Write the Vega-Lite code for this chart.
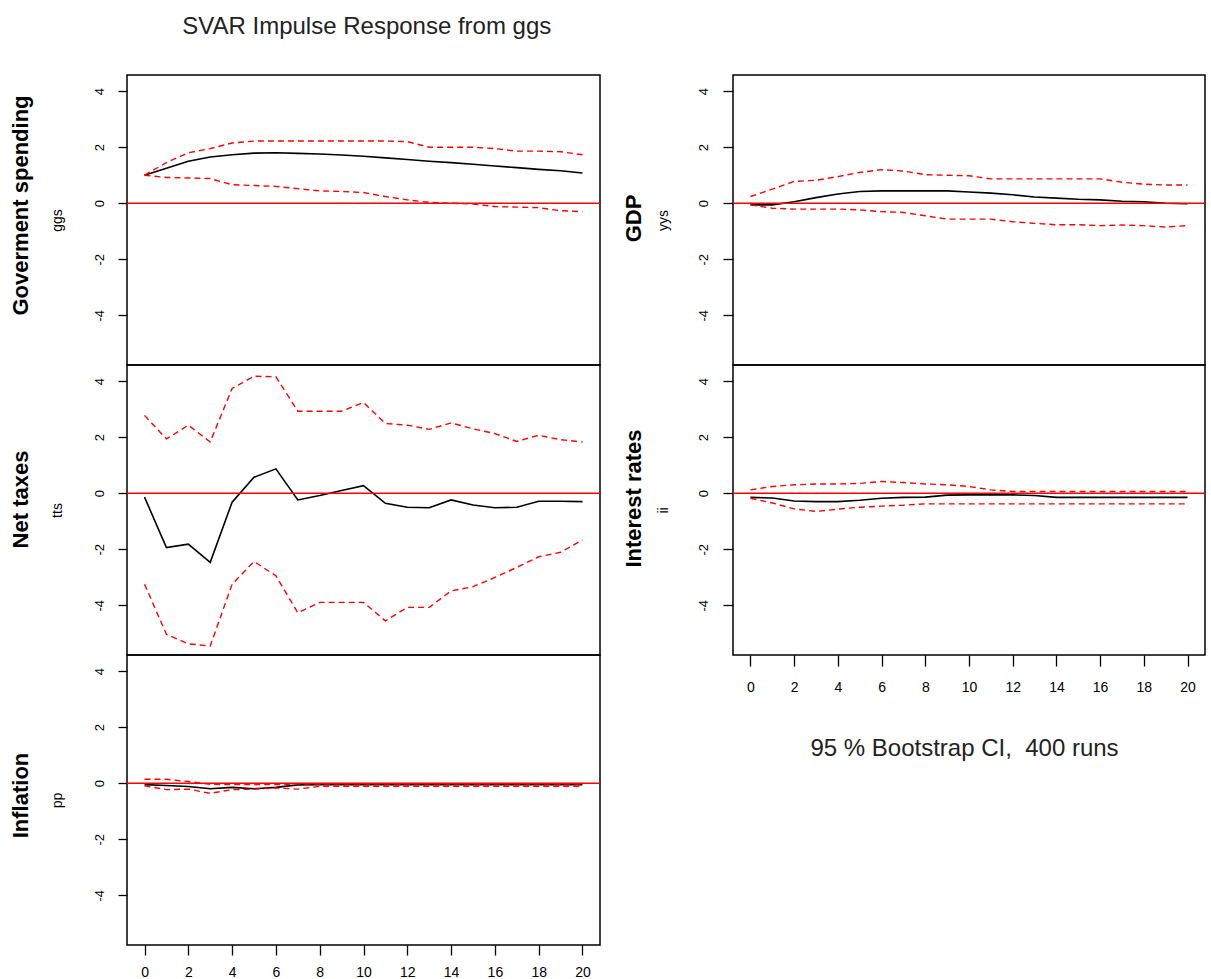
{
"$schema": "https://vega.github.io/schema/vega-lite/v6.json",
"padding": {"left": 8, "top": 15, "right": 0, "bottom": 0},
"background": "white",
"title": {"text": "SVAR Impulse Response from ggs", "fontSize": 24, "fontWeight": "normal", "anchor": "start", "dx": 174, "offset": 35, "color": "#222", "font": "Liberation Sans"},
"data": {"name": "irf"},
"datasets": {"irf": [
{"v":"ggs","h":0,"irf":1.0,"lo":1.0,"hi":1.0},
{"v":"ggs","h":1,"irf":1.25,"lo":0.92,"hi":1.45},
{"v":"ggs","h":2,"irf":1.5,"lo":0.9,"hi":1.8},
{"v":"ggs","h":3,"irf":1.65,"lo":0.88,"hi":1.95},
{"v":"ggs","h":4,"irf":1.73,"lo":0.66,"hi":2.15},
{"v":"ggs","h":5,"irf":1.79,"lo":0.63,"hi":2.22},
{"v":"ggs","h":6,"irf":1.8,"lo":0.6,"hi":2.22},
{"v":"ggs","h":7,"irf":1.78,"lo":0.52,"hi":2.22},
{"v":"ggs","h":8,"irf":1.76,"lo":0.44,"hi":2.22},
{"v":"ggs","h":9,"irf":1.72,"lo":0.42,"hi":2.22},
{"v":"ggs","h":10,"irf":1.68,"lo":0.38,"hi":2.22},
{"v":"ggs","h":11,"irf":1.62,"lo":0.24,"hi":2.22},
{"v":"ggs","h":12,"irf":1.56,"lo":0.12,"hi":2.2},
{"v":"ggs","h":13,"irf":1.5,"lo":0.03,"hi":2.0},
{"v":"ggs","h":14,"irf":1.45,"lo":0.0,"hi":2.0},
{"v":"ggs","h":15,"irf":1.39,"lo":-0.03,"hi":2.0},
{"v":"ggs","h":16,"irf":1.33,"lo":-0.12,"hi":1.95},
{"v":"ggs","h":17,"irf":1.27,"lo":-0.14,"hi":1.86},
{"v":"ggs","h":18,"irf":1.21,"lo":-0.16,"hi":1.86},
{"v":"ggs","h":19,"irf":1.16,"lo":-0.27,"hi":1.84},
{"v":"ggs","h":20,"irf":1.08,"lo":-0.3,"hi":1.73},
{"v":"tts","h":0,"irf":-0.14,"lo":-3.25,"hi":2.78},
{"v":"tts","h":1,"irf":-1.94,"lo":-5.04,"hi":1.94},
{"v":"tts","h":2,"irf":-1.82,"lo":-5.38,"hi":2.43},
{"v":"tts","h":3,"irf":-2.47,"lo":-5.46,"hi":1.83},
{"v":"tts","h":4,"irf":-0.32,"lo":-3.25,"hi":3.74},
{"v":"tts","h":5,"irf":0.57,"lo":-2.44,"hi":4.18},
{"v":"tts","h":6,"irf":0.87,"lo":-2.95,"hi":4.16},
{"v":"tts","h":7,"irf":-0.24,"lo":-4.27,"hi":2.93},
{"v":"tts","h":8,"irf":-0.08,"lo":-3.9,"hi":2.93},
{"v":"tts","h":9,"irf":0.1,"lo":-3.9,"hi":2.93},
{"v":"tts","h":10,"irf":0.27,"lo":-3.9,"hi":3.24},
{"v":"tts","h":11,"irf":-0.36,"lo":-4.56,"hi":2.49},
{"v":"tts","h":12,"irf":-0.5,"lo":-4.08,"hi":2.43},
{"v":"tts","h":13,"irf":-0.52,"lo":-4.08,"hi":2.28},
{"v":"tts","h":14,"irf":-0.24,"lo":-3.49,"hi":2.51},
{"v":"tts","h":15,"irf":-0.42,"lo":-3.34,"hi":2.3},
{"v":"tts","h":16,"irf":-0.52,"lo":-3.01,"hi":2.13},
{"v":"tts","h":17,"irf":-0.5,"lo":-2.65,"hi":1.85},
{"v":"tts","h":18,"irf":-0.29,"lo":-2.27,"hi":2.07},
{"v":"tts","h":19,"irf":-0.29,"lo":-2.11,"hi":1.91},
{"v":"tts","h":20,"irf":-0.3,"lo":-1.67,"hi":1.83},
{"v":"pp","h":0,"irf":-0.05,"lo":-0.09,"hi":0.14},
{"v":"pp","h":1,"irf":-0.08,"lo":-0.23,"hi":0.14},
{"v":"pp","h":2,"irf":-0.12,"lo":-0.21,"hi":0.06},
{"v":"pp","h":3,"irf":-0.2,"lo":-0.36,"hi":-0.04},
{"v":"pp","h":4,"irf":-0.15,"lo":-0.23,"hi":-0.05},
{"v":"pp","h":5,"irf":-0.2,"lo":-0.21,"hi":-0.05},
{"v":"pp","h":6,"irf":-0.15,"lo":-0.17,"hi":-0.05},
{"v":"pp","h":7,"irf":-0.06,"lo":-0.21,"hi":-0.03},
{"v":"pp","h":8,"irf":-0.05,"lo":-0.11,"hi":-0.03},
{"v":"pp","h":9,"irf":-0.05,"lo":-0.11,"hi":-0.03},
{"v":"pp","h":10,"irf":-0.05,"lo":-0.11,"hi":-0.03},
{"v":"pp","h":11,"irf":-0.05,"lo":-0.11,"hi":-0.03},
{"v":"pp","h":12,"irf":-0.05,"lo":-0.11,"hi":-0.03},
{"v":"pp","h":13,"irf":-0.05,"lo":-0.11,"hi":-0.03},
{"v":"pp","h":14,"irf":-0.05,"lo":-0.11,"hi":-0.03},
{"v":"pp","h":15,"irf":-0.05,"lo":-0.11,"hi":-0.03},
{"v":"pp","h":16,"irf":-0.05,"lo":-0.11,"hi":-0.03},
{"v":"pp","h":17,"irf":-0.05,"lo":-0.11,"hi":-0.03},
{"v":"pp","h":18,"irf":-0.05,"lo":-0.11,"hi":-0.03},
{"v":"pp","h":19,"irf":-0.05,"lo":-0.11,"hi":-0.03},
{"v":"pp","h":20,"irf":-0.05,"lo":-0.11,"hi":-0.03},
{"v":"yys","h":0,"irf":-0.06,"lo":-0.06,"hi":0.24},
{"v":"yys","h":1,"irf":-0.06,"lo":-0.18,"hi":0.5},
{"v":"yys","h":2,"irf":0.05,"lo":-0.21,"hi":0.78},
{"v":"yys","h":3,"irf":0.2,"lo":-0.21,"hi":0.82},
{"v":"yys","h":4,"irf":0.33,"lo":-0.21,"hi":0.95},
{"v":"yys","h":5,"irf":0.42,"lo":-0.24,"hi":1.1},
{"v":"yys","h":6,"irf":0.44,"lo":-0.3,"hi":1.2},
{"v":"yys","h":7,"irf":0.44,"lo":-0.33,"hi":1.15},
{"v":"yys","h":8,"irf":0.44,"lo":-0.45,"hi":1.02},
{"v":"yys","h":9,"irf":0.44,"lo":-0.57,"hi":1.0},
{"v":"yys","h":10,"irf":0.4,"lo":-0.57,"hi":0.98},
{"v":"yys","h":11,"irf":0.36,"lo":-0.57,"hi":0.87},
{"v":"yys","h":12,"irf":0.3,"lo":-0.66,"hi":0.87},
{"v":"yys","h":13,"irf":0.22,"lo":-0.72,"hi":0.87},
{"v":"yys","h":14,"irf":0.18,"lo":-0.77,"hi":0.87},
{"v":"yys","h":15,"irf":0.14,"lo":-0.77,"hi":0.87},
{"v":"yys","h":16,"irf":0.12,"lo":-0.8,"hi":0.87},
{"v":"yys","h":17,"irf":0.07,"lo":-0.78,"hi":0.75},
{"v":"yys","h":18,"irf":0.05,"lo":-0.8,"hi":0.68},
{"v":"yys","h":19,"irf":0.0,"lo":-0.85,"hi":0.65},
{"v":"yys","h":20,"irf":-0.02,"lo":-0.8,"hi":0.65},
{"v":"ii","h":0,"irf":-0.15,"lo":-0.18,"hi":0.12},
{"v":"ii","h":1,"irf":-0.17,"lo":-0.35,"hi":0.24},
{"v":"ii","h":2,"irf":-0.28,"lo":-0.56,"hi":0.3},
{"v":"ii","h":3,"irf":-0.3,"lo":-0.65,"hi":0.33},
{"v":"ii","h":4,"irf":-0.3,"lo":-0.57,"hi":0.33},
{"v":"ii","h":5,"irf":-0.25,"lo":-0.5,"hi":0.35},
{"v":"ii","h":6,"irf":-0.18,"lo":-0.46,"hi":0.42},
{"v":"ii","h":7,"irf":-0.15,"lo":-0.43,"hi":0.38},
{"v":"ii","h":8,"irf":-0.14,"lo":-0.38,"hi":0.33},
{"v":"ii","h":9,"irf":-0.07,"lo":-0.38,"hi":0.3},
{"v":"ii","h":10,"irf":-0.06,"lo":-0.38,"hi":0.24},
{"v":"ii","h":11,"irf":-0.06,"lo":-0.38,"hi":0.12},
{"v":"ii","h":12,"irf":-0.06,"lo":-0.38,"hi":0.06},
{"v":"ii","h":13,"irf":-0.08,"lo":-0.38,"hi":0.06},
{"v":"ii","h":14,"irf":-0.15,"lo":-0.38,"hi":0.06},
{"v":"ii","h":15,"irf":-0.15,"lo":-0.38,"hi":0.06},
{"v":"ii","h":16,"irf":-0.15,"lo":-0.38,"hi":0.06},
{"v":"ii","h":17,"irf":-0.15,"lo":-0.38,"hi":0.06},
{"v":"ii","h":18,"irf":-0.15,"lo":-0.38,"hi":0.06},
{"v":"ii","h":19,"irf":-0.15,"lo":-0.38,"hi":0.06},
{"v":"ii","h":20,"irf":-0.15,"lo":-0.38,"hi":0.06}
]},
"columns": 2,
"align": "none",
"spacing": 19,
"concat": [
{"spacing": 0, "bounds": "flush", "vconcat": [
 {"width": 473, "height": 290,
  "layer": [
   {"transform": [{"filter": "datum.v == 'ggs'"}], "mark": {"type": "line", "color": "black", "strokeWidth": 1.6},
    "encoding": {"x": {"field": "h", "type": "quantitative", "scale": {"domain": [-0.8, 20.8], "nice": false, "zero": false}, "axis": null},
     "y": {"field": "irf", "type": "quantitative", "scale": {"domain": [-5.78, 4.58], "nice": false, "zero": false},
      "axis": {"title": "ggs", "titleFontSize": 14, "titleFontWeight": "normal", "titlePadding": 29, "values": [-4, -2, 0, 2, 4], "labelExpr": "'' + datum.value", "labelAngle": -90, "labelAlign": "center", "labelBaseline": "bottom", "labelFontSize": 13, "labelPadding": 12, "tickSize": 9}}}},
   {"transform": [{"filter": "datum.v == 'ggs'"}], "mark": {"type": "line", "color": "red", "strokeWidth": 1.4, "strokeDash": [6, 4]},
    "encoding": {"x": {"field": "h", "type": "quantitative", "scale": {"domain": [-0.8, 20.8], "nice": false, "zero": false}, "axis": null},
     "y": {"field": "lo", "type": "quantitative", "scale": {"domain": [-5.78, 4.58], "nice": false, "zero": false}, "axis": null}}},
   {"transform": [{"filter": "datum.v == 'ggs'"}], "mark": {"type": "line", "color": "red", "strokeWidth": 1.4, "strokeDash": [6, 4]},
    "encoding": {"x": {"field": "h", "type": "quantitative", "scale": {"domain": [-0.8, 20.8], "nice": false, "zero": false}, "axis": null},
     "y": {"field": "hi", "type": "quantitative", "scale": {"domain": [-5.78, 4.58], "nice": false, "zero": false}, "axis": null}}},
   {"transform": [{"filter": "datum.v == 'ggs' && datum.h == 0"}], "mark": {"type": "rule", "color": "red", "strokeWidth": 1.6},
    "encoding": {"y": {"datum": 0, "type": "quantitative", "scale": {"domain": [-5.78, 4.58], "nice": false, "zero": false},
     "axis": {"orient": "left", "title": "Goverment spending", "titleFontSize": 22, "titleFontWeight": "bold", "titlePadding": 95, "titleY": 130, "labels": false, "ticks": false}}}}
  ],
  "resolve": {"axis": {"y": "independent"}}},
 {"width": 473, "height": 290,
  "layer": [
   {"transform": [{"filter": "datum.v == 'tts'"}], "mark": {"type": "line", "color": "black", "strokeWidth": 1.6},
    "encoding": {"x": {"field": "h", "type": "quantitative", "scale": {"domain": [-0.8, 20.8], "nice": false, "zero": false}, "axis": null},
     "y": {"field": "irf", "type": "quantitative", "scale": {"domain": [-5.78, 4.58], "nice": false, "zero": false},
      "axis": {"title": "tts", "titleFontSize": 14, "titleFontWeight": "normal", "titlePadding": 29, "values": [-4, -2, 0, 2, 4], "labelExpr": "'' + datum.value", "labelAngle": -90, "labelAlign": "center", "labelBaseline": "bottom", "labelFontSize": 13, "labelPadding": 12, "tickSize": 9}}}},
   {"transform": [{"filter": "datum.v == 'tts'"}], "mark": {"type": "line", "color": "red", "strokeWidth": 1.4, "strokeDash": [6, 4]},
    "encoding": {"x": {"field": "h", "type": "quantitative", "scale": {"domain": [-0.8, 20.8], "nice": false, "zero": false}, "axis": null},
     "y": {"field": "lo", "type": "quantitative", "scale": {"domain": [-5.78, 4.58], "nice": false, "zero": false}, "axis": null}}},
   {"transform": [{"filter": "datum.v == 'tts'"}], "mark": {"type": "line", "color": "red", "strokeWidth": 1.4, "strokeDash": [6, 4]},
    "encoding": {"x": {"field": "h", "type": "quantitative", "scale": {"domain": [-0.8, 20.8], "nice": false, "zero": false}, "axis": null},
     "y": {"field": "hi", "type": "quantitative", "scale": {"domain": [-5.78, 4.58], "nice": false, "zero": false}, "axis": null}}},
   {"transform": [{"filter": "datum.v == 'tts' && datum.h == 0"}], "mark": {"type": "rule", "color": "red", "strokeWidth": 1.6},
    "encoding": {"y": {"datum": 0, "type": "quantitative", "scale": {"domain": [-5.78, 4.58], "nice": false, "zero": false},
     "axis": {"orient": "left", "title": "Net taxes", "titleFontSize": 22, "titleFontWeight": "bold", "titlePadding": 95, "titleY": 134, "labels": false, "ticks": false}}}}
  ],
  "resolve": {"axis": {"y": "independent"}}},
 {"width": 473, "height": 290,
  "layer": [
   {"transform": [{"filter": "datum.v == 'pp'"}], "mark": {"type": "line", "color": "black", "strokeWidth": 1.6},
    "encoding": {"x": {"field": "h", "type": "quantitative", "scale": {"domain": [-0.8, 20.8], "nice": false, "zero": false},
      "axis": {"title": null, "values": [0,1,2,3,4,5,6,7,8,9,10,11,12,13,14,15,16,17,18,19,20], "labelExpr": "datum.value % 2 == 0 ? '' + datum.value : ''", "labelFontSize": 14, "labelPadding": 10, "tickSize": 10, "labelOverlap": false, "labelFlush": false}},
     "y": {"field": "irf", "type": "quantitative", "scale": {"domain": [-5.78, 4.58], "nice": false, "zero": false},
      "axis": {"title": "pp", "titleFontSize": 14, "titleFontWeight": "normal", "titlePadding": 29, "values": [-4, -2, 0, 2, 4], "labelExpr": "'' + datum.value", "labelAngle": -90, "labelAlign": "center", "labelBaseline": "bottom", "labelFontSize": 13, "labelPadding": 12, "tickSize": 9}}}},
   {"transform": [{"filter": "datum.v == 'pp'"}], "mark": {"type": "line", "color": "red", "strokeWidth": 1.4, "strokeDash": [6, 4]},
    "encoding": {"x": {"field": "h", "type": "quantitative", "scale": {"domain": [-0.8, 20.8], "nice": false, "zero": false}},
     "y": {"field": "lo", "type": "quantitative", "scale": {"domain": [-5.78, 4.58], "nice": false, "zero": false}, "axis": null}}},
   {"transform": [{"filter": "datum.v == 'pp'"}], "mark": {"type": "line", "color": "red", "strokeWidth": 1.4, "strokeDash": [6, 4]},
    "encoding": {"x": {"field": "h", "type": "quantitative", "scale": {"domain": [-0.8, 20.8], "nice": false, "zero": false}},
     "y": {"field": "hi", "type": "quantitative", "scale": {"domain": [-5.78, 4.58], "nice": false, "zero": false}, "axis": null}}},
   {"transform": [{"filter": "datum.v == 'pp' && datum.h == 0"}], "mark": {"type": "rule", "color": "red", "strokeWidth": 1.6},
    "encoding": {"y": {"datum": 0, "type": "quantitative", "scale": {"domain": [-5.78, 4.58], "nice": false, "zero": false},
     "axis": {"orient": "left", "title": "Inflation", "titleFontSize": 22, "titleFontWeight": "bold", "titlePadding": 95, "titleY": 140, "labels": false, "ticks": false}}}}
  ],
  "resolve": {"axis": {"y": "independent"}}}
]},
{"spacing": 0, "bounds": "flush", "vconcat": [
 {"width": 472, "height": 290,
  "layer": [
   {"transform": [{"filter": "datum.v == 'yys'"}], "mark": {"type": "line", "color": "black", "strokeWidth": 1.6},
    "encoding": {"x": {"field": "h", "type": "quantitative", "scale": {"domain": [-0.8, 20.8], "nice": false, "zero": false}, "axis": null},
     "y": {"field": "irf", "type": "quantitative", "scale": {"domain": [-5.78, 4.58], "nice": false, "zero": false},
      "axis": {"title": "yys", "titleFontSize": 14, "titleFontWeight": "normal", "titlePadding": 27, "values": [-4, -2, 0, 2, 4], "labelExpr": "'' + datum.value", "labelAngle": -90, "labelAlign": "center", "labelBaseline": "bottom", "labelFontSize": 13, "labelPadding": 13, "tickSize": 10}}}},
   {"transform": [{"filter": "datum.v == 'yys'"}], "mark": {"type": "line", "color": "red", "strokeWidth": 1.4, "strokeDash": [6, 4]},
    "encoding": {"x": {"field": "h", "type": "quantitative", "scale": {"domain": [-0.8, 20.8], "nice": false, "zero": false}, "axis": null},
     "y": {"field": "lo", "type": "quantitative", "scale": {"domain": [-5.78, 4.58], "nice": false, "zero": false}, "axis": null}}},
   {"transform": [{"filter": "datum.v == 'yys'"}], "mark": {"type": "line", "color": "red", "strokeWidth": 1.4, "strokeDash": [6, 4]},
    "encoding": {"x": {"field": "h", "type": "quantitative", "scale": {"domain": [-0.8, 20.8], "nice": false, "zero": false}, "axis": null},
     "y": {"field": "hi", "type": "quantitative", "scale": {"domain": [-5.78, 4.58], "nice": false, "zero": false}, "axis": null}}},
   {"transform": [{"filter": "datum.v == 'yys' && datum.h == 0"}], "mark": {"type": "rule", "color": "red", "strokeWidth": 1.6},
    "encoding": {"y": {"datum": 0, "type": "quantitative", "scale": {"domain": [-5.78, 4.58], "nice": false, "zero": false},
     "axis": {"orient": "left", "title": "GDP", "titleFontSize": 22, "titleFontWeight": "bold", "titlePadding": 88, "titleY": 143, "labels": false, "ticks": false}}}}
  ],
  "resolve": {"axis": {"y": "independent"}}},
 {"width": 472, "height": 290,
  "layer": [
   {"transform": [{"filter": "datum.v == 'ii'"}], "mark": {"type": "line", "color": "black", "strokeWidth": 1.6},
    "encoding": {"x": {"field": "h", "type": "quantitative", "scale": {"domain": [-0.8, 20.8], "nice": false, "zero": false},
      "axis": {"title": "95 % Bootstrap CI,\u00a0 400 runs", "titleFontSize": 24, "titleFontWeight": "normal", "titleColor": "#222", "titlePadding": 42, "titleX": 231, "values": [0,1,2,3,4,5,6,7,8,9,10,11,12,13,14,15,16,17,18,19,20], "labelExpr": "datum.value % 2 == 0 ? '' + datum.value : ''", "labelFontSize": 14, "labelPadding": 14, "tickSize": 11, "labelOverlap": false, "labelFlush": false}},
     "y": {"field": "irf", "type": "quantitative", "scale": {"domain": [-5.78, 4.58], "nice": false, "zero": false},
      "axis": {"title": "ii", "titleFontSize": 14, "titleFontWeight": "normal", "titlePadding": 27, "values": [-4, -2, 0, 2, 4], "labelExpr": "'' + datum.value", "labelAngle": -90, "labelAlign": "center", "labelBaseline": "bottom", "labelFontSize": 13, "labelPadding": 13, "tickSize": 10}}}},
   {"transform": [{"filter": "datum.v == 'ii'"}], "mark": {"type": "line", "color": "red", "strokeWidth": 1.4, "strokeDash": [6, 4]},
    "encoding": {"x": {"field": "h", "type": "quantitative", "scale": {"domain": [-0.8, 20.8], "nice": false, "zero": false}},
     "y": {"field": "lo", "type": "quantitative", "scale": {"domain": [-5.78, 4.58], "nice": false, "zero": false}, "axis": null}}},
   {"transform": [{"filter": "datum.v == 'ii'"}], "mark": {"type": "line", "color": "red", "strokeWidth": 1.4, "strokeDash": [6, 4]},
    "encoding": {"x": {"field": "h", "type": "quantitative", "scale": {"domain": [-0.8, 20.8], "nice": false, "zero": false}},
     "y": {"field": "hi", "type": "quantitative", "scale": {"domain": [-5.78, 4.58], "nice": false, "zero": false}, "axis": null}}},
   {"transform": [{"filter": "datum.v == 'ii' && datum.h == 0"}], "mark": {"type": "rule", "color": "red", "strokeWidth": 1.6},
    "encoding": {"y": {"datum": 0, "type": "quantitative", "scale": {"domain": [-5.78, 4.58], "nice": false, "zero": false},
     "axis": {"orient": "left", "title": "Interest rates", "titleFontSize": 22, "titleFontWeight": "bold", "titlePadding": 88, "titleY": 133, "labels": false, "ticks": false}}}}
  ],
  "resolve": {"axis": {"y": "independent"}}}
]}
],
"config": {
 "font": "Liberation Sans",
 "view": {"stroke": "black", "strokeWidth": 1.5},
 "axis": {"grid": false, "domain": false, "labelFont": "Liberation Sans", "titleFont": "Liberation Sans", "labelColor": "black", "titleColor": "black", "tickColor": "black", "tickWidth": 1.3}
}
}
